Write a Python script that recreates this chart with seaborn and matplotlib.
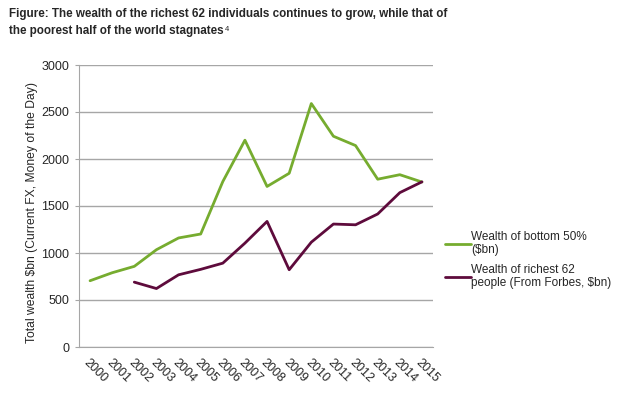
import numpy as np
import pandas as pd
import matplotlib
matplotlib.use("Agg")
import matplotlib.pyplot as plt
import matplotlib.transforms as mtransforms
from matplotlib.ticker import FixedLocator
import seaborn as sns

years = list(range(2000, 2016))
bottom_50 = [705, 790, 858, 1035, 1160, 1202, 1760, 2200, 1708, 1848, 2590, 2242, 2143, 1785, 1833, 1755]
richest_years = list(range(2002, 2016))
richest_62 = [690, 622, 768, 826, 892, 1105, 1336, 822, 1115, 1308, 1300, 1415, 1642, 1757]

label_bottom = "Wealth of bottom 50%\n($bn)"
label_rich = "Wealth of richest 62\npeople (From Forbes, $bn)"

df = pd.concat([
    pd.DataFrame({"year": years, "wealth": bottom_50, "series": label_bottom}),
    pd.DataFrame({"year": richest_years, "wealth": richest_62, "series": label_rich}),
])

sns.set_style("white")
plt.rcParams["font.family"] = ["Liberation Sans", "DejaVu Sans"]

fig = plt.figure(figsize=(6.43, 4.04), dpi=100)
ax = fig.add_axes([79 / 643, 1 - 347 / 404, 354 / 643, 282 / 404])

palette = {label_bottom: "#76AC2F", label_rich: "#5E0B3C"}
sns.lineplot(data=df, x="year", y="wealth", hue="series", palette=palette,
             linewidth=2, ax=ax, legend=False)

ax.set_xlim(1999.5, 2015.5)
ax.set_ylim(0, 3000)
ax.set_yticks(range(0, 3001, 500))
ax.yaxis.grid(True, color="#A6A6A6", linewidth=1)
ax.set_xticks(years)
ax.set_xticklabels([str(y) for y in years], rotation=-45, ha="left", va="top",
                   rotation_mode="anchor", fontsize=9)
shift = mtransforms.ScaledTranslation(2 / 100, 0, fig.dpi_scale_trans)
for lbl in ax.get_xticklabels():
    lbl.set_transform(lbl.get_transform() + shift)
ax.xaxis.set_minor_locator(FixedLocator(np.arange(1999.5, 2016, 1)))
ax.tick_params(axis="x", which="major", length=0, pad=7)
ax.tick_params(axis="x", which="minor", length=4, color="#A6A6A6", direction="out")
ax.tick_params(axis="y", length=3, color="#A6A6A6", direction="out", labelsize=9, left=True, pad=4)
for s in ["top", "right"]:
    ax.spines[s].set_visible(False)
for s in ["left", "bottom"]:
    ax.spines[s].set_color("#A6A6A6")
ax.set_xlabel("")
ax.set_ylabel("Total wealth $bn (Current FX, Money of the Day)", fontsize=8.7, va="center")
ax.yaxis.set_label_coords(-47 / 354, 0.477)

handles = [plt.Line2D([], [], color=palette[label_bottom], linewidth=2),
           plt.Line2D([], [], color=palette[label_rich], linewidth=2)]
fig.legend(handles, [label_bottom, label_rich], loc="upper left",
           bbox_to_anchor=(434 / 643, 1 - 220 / 404), frameon=False, fontsize=8.5,
           handlelength=2.2, handletextpad=0.05, labelspacing=0.6)

fig.text(9 / 643, 1 - 8 / 404,
         "Figure: The wealth of the richest 62 individuals continues to grow, while that of",
         fontsize=8.4, fontweight="bold", va="top")
line2 = fig.text(9 / 643, 1 - 25 / 404, "the poorest half of the world stagnates",
                 fontsize=8.4, fontweight="bold", va="top")
ax.annotate("4", xy=(1, 1), xycoords=line2, xytext=(1, -1), textcoords="offset points",
            fontsize=5.5, va="top", ha="left")

fig.savefig("out.png", dpi=100)
